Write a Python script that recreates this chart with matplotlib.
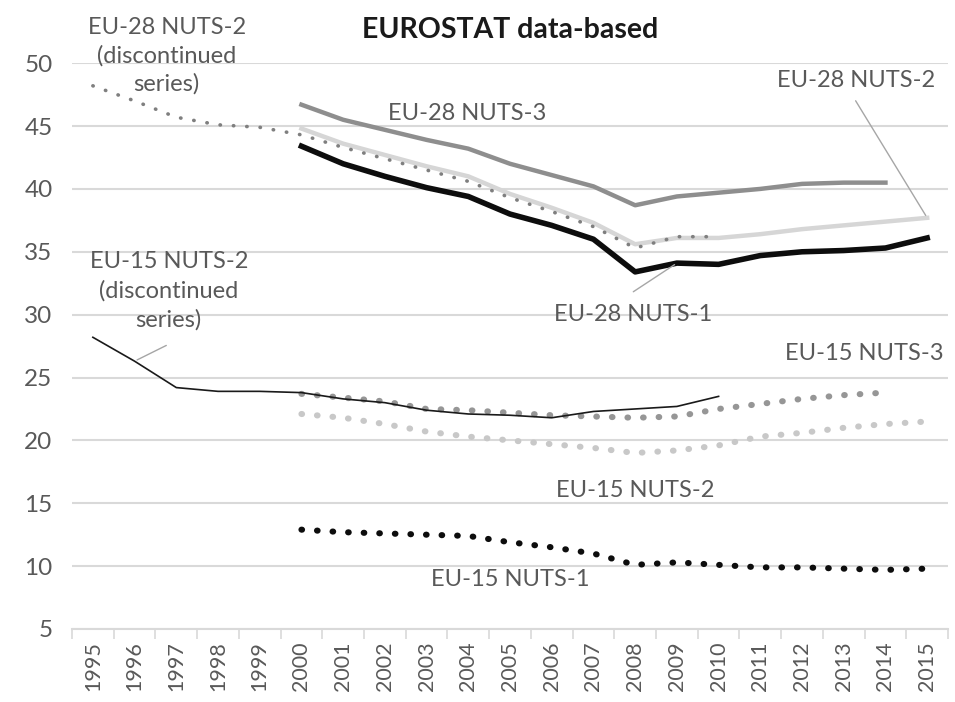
import matplotlib.pyplot as plt
import numpy as np

plt.rcParams['font.family'] = ['Lato', 'DejaVu Sans']

years = [str(y) for y in range(1995, 2016)]
x = np.arange(len(years))

# EU-28 series (2000-2015 unless noted)
eu28_nuts2_disc = [48.2, 47.0, 45.7, 45.1, 44.9, 44.3, 43.3, 42.4, 41.5, 40.6,
                   39.3, 38.2, 37.0, 35.3, 36.2, 36.2]          # 1995-2010
eu28_nuts2 = [44.8, 43.6, 42.7, 41.8, 41.0, 39.6, 38.5, 37.3, 35.6, 36.1,
              36.1, 36.4, 36.8, 37.1, 37.4, 37.7]               # 2000-2015
eu28_nuts3 = [46.7, 45.5, 44.7, 43.9, 43.2, 42.0, 41.1, 40.2, 38.7, 39.4,
              39.7, 40.0, 40.4, 40.5, 40.5]                     # 2000-2014
eu28_nuts1 = [43.4, 42.0, 41.0, 40.1, 39.4, 38.0, 37.1, 36.0, 33.4, 34.1,
              34.0, 34.7, 35.0, 35.1, 35.3, 36.1]               # 2000-2015

# EU-15 series
eu15_nuts2_disc = [28.2, 26.3, 24.2, 23.9, 23.9, 23.8, 23.3, 23.0, 22.4, 22.1,
                   22.0, 21.8, 22.3, 22.5, 22.7, 23.5]          # 1995-2010
eu15_nuts3 = [23.7, 23.4, 23.1, 22.5, 22.4, 22.2, 22.0, 21.9, 21.8, 21.9,
              22.5, 22.9, 23.3, 23.6, 23.8]                     # 2000-2014
eu15_nuts2 = [22.1, 21.8, 21.3, 20.7, 20.3, 20.0, 19.7, 19.4, 19.0, 19.2,
              19.6, 20.3, 20.6, 21.0, 21.3, 21.5]               # 2000-2015
eu15_nuts1 = [12.9, 12.7, 12.6, 12.5, 12.4, 11.9, 11.5, 11.0, 10.1, 10.3,
              10.1, 9.9, 9.9, 9.8, 9.7, 9.8]                    # 2000-2015

fig = plt.figure(figsize=(9.55, 7.02), dpi=100)
ax = fig.add_axes([0.0754, 0.104, 0.9173, 0.806])

def xs(vals, start):
    i = years.index(start)
    return x[i:i + len(vals)]

lbl = '#595959'

# solid EU-28 lines
ax.plot(xs(eu28_nuts2, '2000'), eu28_nuts2, color='#d6d6d6', lw=3.2, zorder=3)
ax.plot(xs(eu28_nuts3, '2000'), eu28_nuts3, color='#8e8e8e', lw=3.2, zorder=3)
ax.plot(xs(eu28_nuts1, '2000'), eu28_nuts1, color='#0d0d0d', lw=4.0, zorder=3)
ax.plot(xs(eu28_nuts2_disc, '1995'), eu28_nuts2_disc, color='#7f7f7f', lw=2.6,
        ls=(0, (0.1, 3.6)), dash_capstyle='round', zorder=4)

# EU-15
ax.plot(xs(eu15_nuts3, '2000'), eu15_nuts3, color='#969696', lw=4.4,
        ls=(0, (0.1, 2.45)), dash_capstyle='round', zorder=3)
ax.plot(xs(eu15_nuts2, '2000'), eu15_nuts2, color='#c8c8c8', lw=4.4,
        ls=(0, (0.1, 2.45)), dash_capstyle='round', zorder=3)
ax.plot(xs(eu15_nuts1, '2000'), eu15_nuts1, color='#0d0d0d', lw=4.4,
        ls=(0, (0.1, 2.45)), dash_capstyle='round', zorder=3)
ax.plot(xs(eu15_nuts2_disc, '1995'), eu15_nuts2_disc, color='#1a1a1a', lw=1.2,
        zorder=4)

ax.set_xlim(-0.5, len(years) - 0.5)
ax.set_ylim(5, 50)
ax.set_yticks(range(5, 51, 5))
ax.set_xticks(x)
ax.set_xticklabels(years, rotation=90)
ax.set_xticks(np.arange(-0.5, len(years), 1), minor=True)
ax.tick_params(axis='x', which='major', length=0, pad=9, labelsize=15.5, labelcolor=lbl)
ax.tick_params(axis='x', which='minor', length=7, width=1.2, color='#d9d9d9')
ax.tick_params(axis='y', length=0, pad=14, labelsize=17.5, labelcolor=lbl)
ax.grid(axis='y', color='#d9d9d9', lw=1.5)
ax.set_axisbelow(True)
for s in ['top', 'right', 'left']:
    ax.spines[s].set_visible(False)
ax.spines['bottom'].set_color('#d9d9d9')
ax.spines['bottom'].set_linewidth(1.5)

fs = 17
ax.text(0.5, 1.058, 'EUROSTAT data-based', transform=ax.transAxes, ha='center',
        va='center', fontsize=20.5, fontweight='bold', color='#1a1a1a')

ax.text(1.77, 50.6, 'EU-28 NUTS-2\n(discontinued\nseries)', ha='center', va='center',
        fontsize=fs, color=lbl, linespacing=1.38, clip_on=False)
ax.text(8.97, 46.0, 'EU-28 NUTS-3', ha='center', va='center', fontsize=fs, color=lbl)
ax.text(18.3, 48.6, 'EU-28 NUTS-2', ha='center', va='center', fontsize=fs, color=lbl)
ax.text(12.95, 30.0, 'EU-28 NUTS-1', ha='center', va='center', fontsize=fs, color=lbl)
ax.text(1.82, 31.9, 'EU-15 NUTS-2\n(discontinued\nseries)', ha='center', va='center',
        fontsize=fs, color=lbl, linespacing=1.42)
ax.text(18.5, 26.9, 'EU-15 NUTS-3', ha='center', va='center', fontsize=fs, color=lbl)
ax.text(13.0, 16.0, 'EU-15 NUTS-2', ha='center', va='center', fontsize=fs, color=lbl)
ax.text(10.0, 8.9, 'EU-15 NUTS-1', ha='center', va='center', fontsize=fs, color=lbl)

# leader lines
lc = '#a6a6a6'
ax.annotate('', xy=(20, eu28_nuts2[-1]), xytext=(18.25, 47.2),
            arrowprops=dict(arrowstyle='-', color=lc, lw=1))
ax.annotate('', xy=(14, eu28_nuts1[9]), xytext=(12.9, 31.7),
            arrowprops=dict(arrowstyle='-', color=lc, lw=1))
ax.annotate('', xy=(1, eu15_nuts2_disc[1]), xytext=(1.82, 27.65),
            arrowprops=dict(arrowstyle='-', color=lc, lw=1))

fig.savefig('out.png', dpi=100)
